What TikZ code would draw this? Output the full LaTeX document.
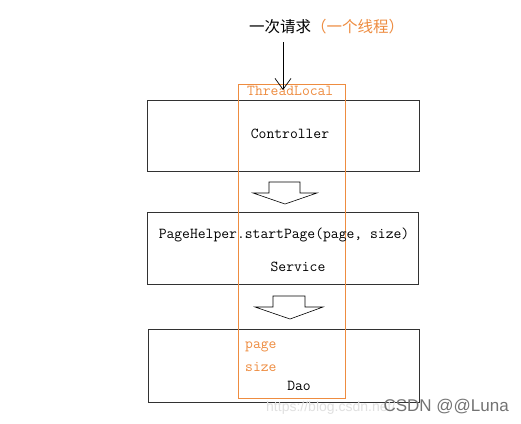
\documentclass[tikz,border=0pt]{standalone}
\usepackage{fontspec}
\newfontfamily\cjk{Noto Sans CJK SC}
\newfontfamily\wmfont{Liberation Sans}
\usetikzlibrary{arrows.meta}
\definecolor{tlorange}{RGB}{238,140,64}
\definecolor{boxgray}{RGB}{50,50,50}
\begin{document}
\begin{tikzpicture}[x=1pt,y=-1pt,
  layerbox/.style={draw=boxgray,line width=1pt},
  mono/.style={font=\fontsize{15.2}{16}\ttfamily,inner sep=0pt},
  blockarrow/.style={draw=black,line width=0.6pt,fill=white}]
\useasboundingbox[fill=white] (0,0) rectangle (521,423);
% layer boxes
\node[layerbox,minimum width=272pt,minimum height=71pt,inner sep=0pt] (ctrl) at (283,135.5) {};
\node[layerbox,minimum width=271pt,minimum height=72pt,inner sep=0pt] (svc) at (283,248) {};
\node[layerbox,minimum width=271pt,minimum height=73pt,inner sep=0pt] (dao) at (283.5,365.5) {};
% block arrows
\draw[blockarrow] (269,182) -- (300,182) -- (300,193) -- (317,193) -- (285,204) -- (253,193) -- (269,193) -- cycle;
\draw[blockarrow] (273,296) -- (305,296) -- (305,307) -- (323,307) -- (290,319) -- (255,307) -- (273,307) -- cycle;
% ThreadLocal box
\node[draw=tlorange,line width=1pt,minimum width=107pt,minimum height=314pt,inner sep=0pt] (tl) at (292,241.5) {};
\node[mono,text=tlorange,anchor=west] (tltext) at (247,91) {ThreadLocal};
% texts
\node[mono] (ctrltext) at (290,134) {Controller};
\node[mono] (helper) at (284,235) {PageHelper.startPage(page, size)};
\node[mono] (svctext) at (298,267) {Service};
\node[mono,text=tlorange,anchor=west] (pagetext) at (245,347) {page};
\node[mono,text=tlorange,anchor=west] (sizetext) at (245,367) {size};
\node[mono] (daotext) at (299,386) {Dao};
% request title and arrow
\node[inner sep=0pt,anchor=base west] (title) at (249,32) {\cjk\fontsize{15.5}{16}\selectfont 一次请求\textcolor{tlorange}{（一个线程）}};
\coordinate (tip) at (283,90);
\draw[line width=0.7pt,-{Straight Barb[length=11pt,width=16pt,line width=0.7pt]}] (283,42) -- (tip);
% watermark
\node[inner sep=0pt,anchor=west,text=black!12] (url) at (266,408) {\wmfont\fontsize{14}{14}\selectfont https://blog.csdn.net/};
\node[inner sep=0pt,anchor=east,text=black!55] (wm) at (509,407) {\wmfont\fontsize{17}{17}\selectfont CSDN @@Luna};
\end{tikzpicture}
\end{document}
